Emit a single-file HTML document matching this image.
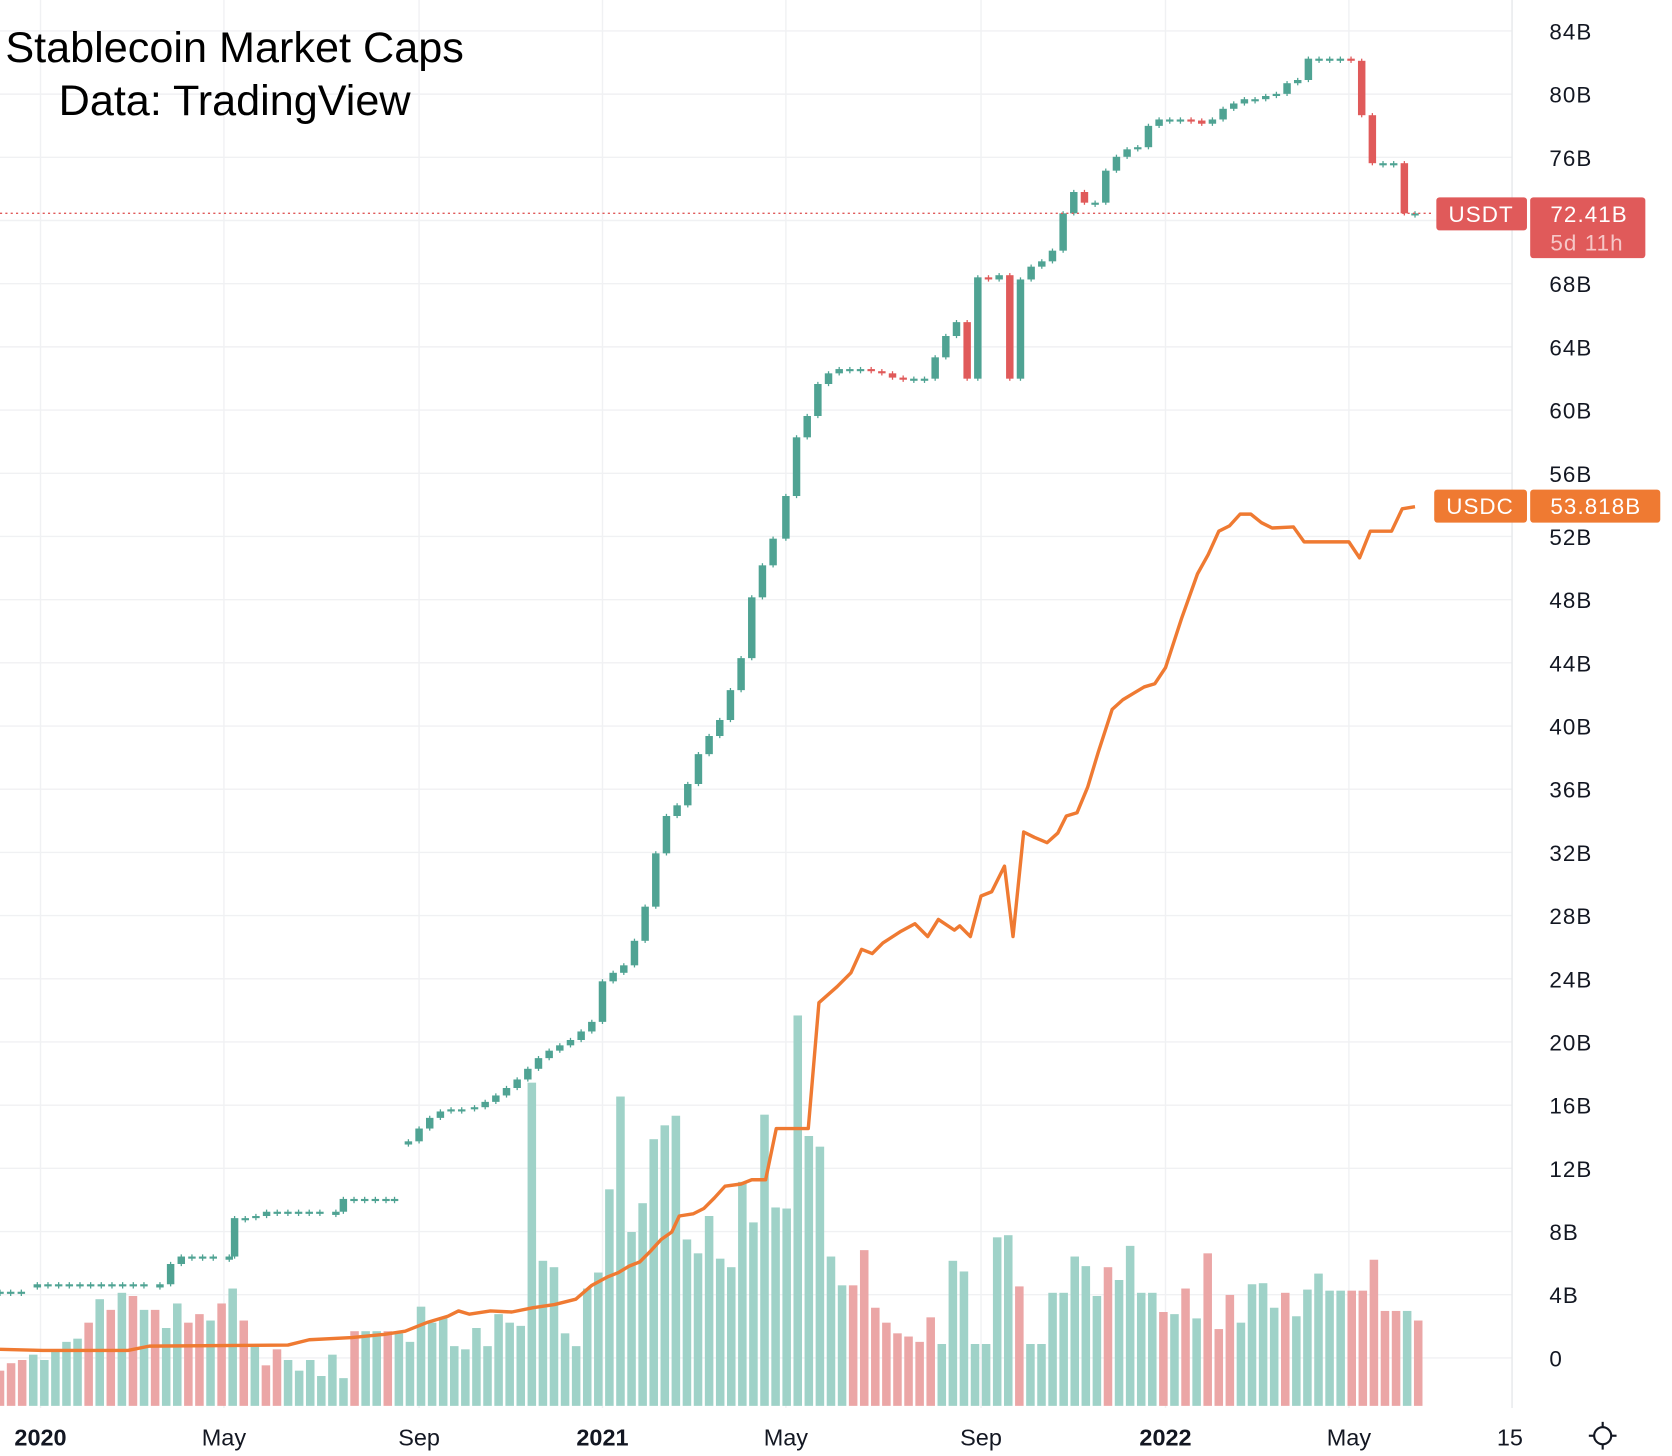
<!DOCTYPE html>
<html><head><meta charset="utf-8"><style>
html,body{margin:0;padding:0;background:#fff;}
svg{display:block;}
text{font-family:"Liberation Sans",sans-serif;}
</style></head><body>
<svg id="s" width="1672" height="1456" viewBox="0 0 1568 1365" preserveAspectRatio="none" xmlns="http://www.w3.org/2000/svg">
<rect width="1568" height="1365" fill="#fff"/>
<g id="grid"></g>
<g id="vol"></g>
<path id="usdc" fill="none" stroke="#ef7a32" stroke-width="3.2" stroke-linejoin="round"/>
<g id="cand"></g>
<line x1="0" y1="200" x2="1345" y2="200" stroke="#e05a5a" stroke-width="1.3" stroke-dasharray="2,3"/>
<g id="ylab" font-size="21" fill="#131722" letter-spacing="1"></g>
<g font-size="22" fill="#131722" text-anchor="middle">
<text x="38" y="1355" font-weight="bold">2020</text>
<text x="210" y="1355">May</text>
<text x="393" y="1355">Sep</text>
<text x="565" y="1355" font-weight="bold">2021</text>
<text x="737" y="1355">May</text>
<text x="920" y="1355">Sep</text>
<text x="1093" y="1355" font-weight="bold">2022</text>
<text x="1265" y="1355">May</text>
<text x="1416" y="1355">15</text>
</g>
<g stroke="#131722" stroke-width="2" fill="none">
<circle cx="1503" cy="1346" r="8"/>
<line x1="1503" y1="1333" x2="1503" y2="1338"/><line x1="1503" y1="1354" x2="1503" y2="1359"/>
<line x1="1490" y1="1346" x2="1495" y2="1346"/><line x1="1511" y1="1346" x2="1516" y2="1346"/>
</g>
<rect x="1347" y="185" width="85" height="31" rx="3" fill="#e05a5a"/>
<rect x="1435" y="185" width="108" height="57" rx="3" fill="#e05a5a"/>
<text x="1389" y="208" font-size="21" fill="#fff" text-anchor="middle" letter-spacing="1">USDT</text>
<text x="1454" y="208" font-size="21" fill="#fff" letter-spacing="1">72.41B</text>
<text x="1454" y="235" font-size="21" fill="#f6c7c7" letter-spacing="1">5d 11h</text>
<rect x="1345" y="459" width="87" height="31" rx="3" fill="#ef7a32"/>
<rect x="1435" y="459" width="122" height="31" rx="3" fill="#ef7a32"/>
<text x="1388" y="482" font-size="21" fill="#fff" text-anchor="middle" letter-spacing="1">USDC</text>
<text x="1454" y="482" font-size="21" fill="#fff" letter-spacing="1">53.818B</text>
<text x="5" y="58" font-size="40" fill="#000" textLength="430" lengthAdjust="spacingAndGlyphs">Stablecoin Market Caps</text>
<text x="55" y="108" font-size="40" fill="#000" textLength="330" lengthAdjust="spacingAndGlyphs">Data: TradingView</text>
</svg>
<script>
var NS="http://www.w3.org/2000/svg";
function el(p,t,a){var e=document.createElementNS(NS,t);for(var k in a)e.setAttribute(k,a[k]);p.appendChild(e);return e;}
var g=document.getElementById('grid'),yl=document.getElementById('ylab');
var labs=["84B","80B","76B","72B","68B","64B","60B","56B","52B","48B","44B","40B","36B","32B","28B","24B","20B","16B","12B","8B","4B","0"];
for(var i=0;i<22;i++){var y=29+i*59.24;el(g,'line',{x1:0,x2:1418,y1:y,y2:y,stroke:'#f0f1f3','stroke-width':1.3});
 if(i!=3){var t=el(yl,'text',{x:1453,y:y+8});t.textContent=labs[i];}}
[38,210,393,565,737,920,1093,1265].forEach(function(x){el(g,'line',{x1:x,x2:x,y1:0,y2:1320,stroke:'#f0f1f3','stroke-width':1.3});});
el(g,'line',{x1:1418,x2:1418,y1:0,y2:1320,stroke:'#e6e8eb','stroke-width':1.3});
var vt=[1285,1278,1275,1270,1275,1265,1258,1255,1240,1218,1228,1212,1215,1228,1228,1245,1222,1240,1232,1238,1222,1208,1238,1260,1280,1265,1275,1285,1275,1290,1270,1292,1248,1248,1248,1248,1250,1258,1225,1240,1235,1262,1265,1245,1262,1232,1240,1243,1015,1182,1188,1250,1262,1208,1193,1115,1028,1155,1128,1068,1055,1046,1162,1175,1140,1180,1188,1108,1146,1045,1132,1133,952,1065,1075,1178,1205,1205,1172,1226,1240,1250,1253,1258,1235,1260,1182,1192,1260,1260,1160,1158,1206,1260,1260,1212,1212,1178,1187,1215,1188,1200,1168,1212,1212,1230,1232,1208,1236,1175,1246,1214,1240,1204,1203,1226,1212,1234,1209,1194,1210,1210,1210,1210,1181,1229,1229,1229,1238];
var red={0:1,1:1,2:1,8:1,10:1,12:1,14:1,17:1,18:1,20:1,22:1,24:1,25:1,32:1,35:1,77:1,78:1,79:1,80:1,81:1,82:1,83:1,84:1,92:1,100:1,105:1,107:1,109:1,110:1,111:1,116:1,122:1,123:1,124:1,125:1,126:1,128:1,129:1};
var v=document.getElementById('vol'),sp=1330/(vt.length-1);
vt.forEach(function(t,k){var x=k*sp;el(v,'rect',{x:x-4,y:t,width:8,height:1318-t,fill:red[k]?'#eba6a6':'#9fd2c8'});});
var u=[[0,1265],[40,1266],[120,1266],[140,1262],[270,1261],[290,1256],[330,1254],[360,1251],[380,1248],[400,1240],[420,1234],[430,1229],[440,1232],[460,1229],[480,1230],[500,1226],[520,1223],[540,1218],[555,1205],[570,1197],[580,1193],[590,1187],[600,1183],[610,1173],[620,1162],[630,1155],[637,1140],[650,1138],[660,1133],[670,1123],[680,1112],[695,1110],[705,1106],[718,1106],[728,1058],[758,1058],[768,940],[785,925],[798,912],[808,890],[818,894],[828,884],[845,873],[858,866],[870,878],[880,862],[895,872],[900,868],[910,878],[920,840],[930,836],[942,812],[950,878],[960,780],[970,785],[982,790],[992,781],[1000,765],[1010,762],[1020,738],[1030,705],[1043,665],[1053,656],[1063,650],[1073,644],[1083,641],[1093,626],[1108,580],[1123,538],[1133,520],[1143,498],[1153,493],[1163,482],[1173,482],[1183,490],[1193,495],[1213,494],[1223,508],[1265,508],[1275,523],[1285,498],[1305,498],[1315,477],[1327,475]];
document.getElementById('usdc').setAttribute('d','M'+u.map(function(p){return p.join(',');}).join(' L'));
var c0=[[0,1211],[20,1211],[35,1204],[150,1204],[160,1185],[170,1178],[215,1178],[220,1142],[240,1140],[250,1136],[315,1136],[322,1124],[370,1124],[383,1070],[393,1058],[403,1048],[413,1042],[423,1040],[445,1038],[455,1033],[465,1027],[475,1020],[485,1012],[495,1002],[505,992],[515,985],[525,980],[535,975],[545,967],[555,958],[565,920],[575,912],[585,905],[595,882],[605,850],[615,800],[625,765],[635,755],[645,735],[655,707],[665,690],[675,675],[685,647],[695,617],[705,560],[715,530],[725,505],[737,465],[747,410],[757,390],[767,360],[777,350],[787,346],[797,346],[807,346],[817,348],[827,350],[837,354],[847,355],[857,355],[867,355],[877,335],[887,315],[897,302],[907,355],[917,260],[927,262],[937,258],[947,355],[957,262],[967,250],[977,245],[987,235],[997,200],[1007,180],[1017,190],[1027,190],[1037,160],[1047,147],[1057,140],[1067,138],[1077,118],[1087,112],[1097,112],[1107,112],[1117,113],[1127,116],[1137,112],[1147,102],[1157,97],[1167,93],[1177,93],[1187,90],[1197,88],[1207,78],[1217,75],[1227,55],[1237,55],[1247,55],[1257,55],[1267,57],[1277,108],[1287,153],[1297,153],[1307,153],[1317,200],[1327,200]];
var c=[];
for(var i=0;i<c0.length;i++){
 if(i>0){var a=c0[i-1],b=c0[i];if(b[0]-a[0]>14&&a[0]!=370){for(var xx=a[0]+10;xx<b[0]-5;xx+=10)c.push([xx,a[1]]);}}
 c.push(c0[i]);}
var cg=document.getElementById('cand');
for(var i=0;i<c.length;i++){var x=c[i][0],cl=c[i][1],op=i?c[i-1][1]:cl;
 if(i&&c[i][0]-c[i-1][0]>12)op=cl+3;
 var up=cl<=op,col=up?'#4fa393':'#e05a5a';
 var bt=Math.min(op,cl),h=Math.max(2,Math.abs(op-cl));
 el(cg,'line',{x1:x,x2:x,y1:bt-2,y2:bt+h+2,stroke:col,'stroke-width':1.2});
 el(cg,'rect',{x:x-3.5,y:bt,width:7,height:h,fill:col});}
</script>
</body></html>
